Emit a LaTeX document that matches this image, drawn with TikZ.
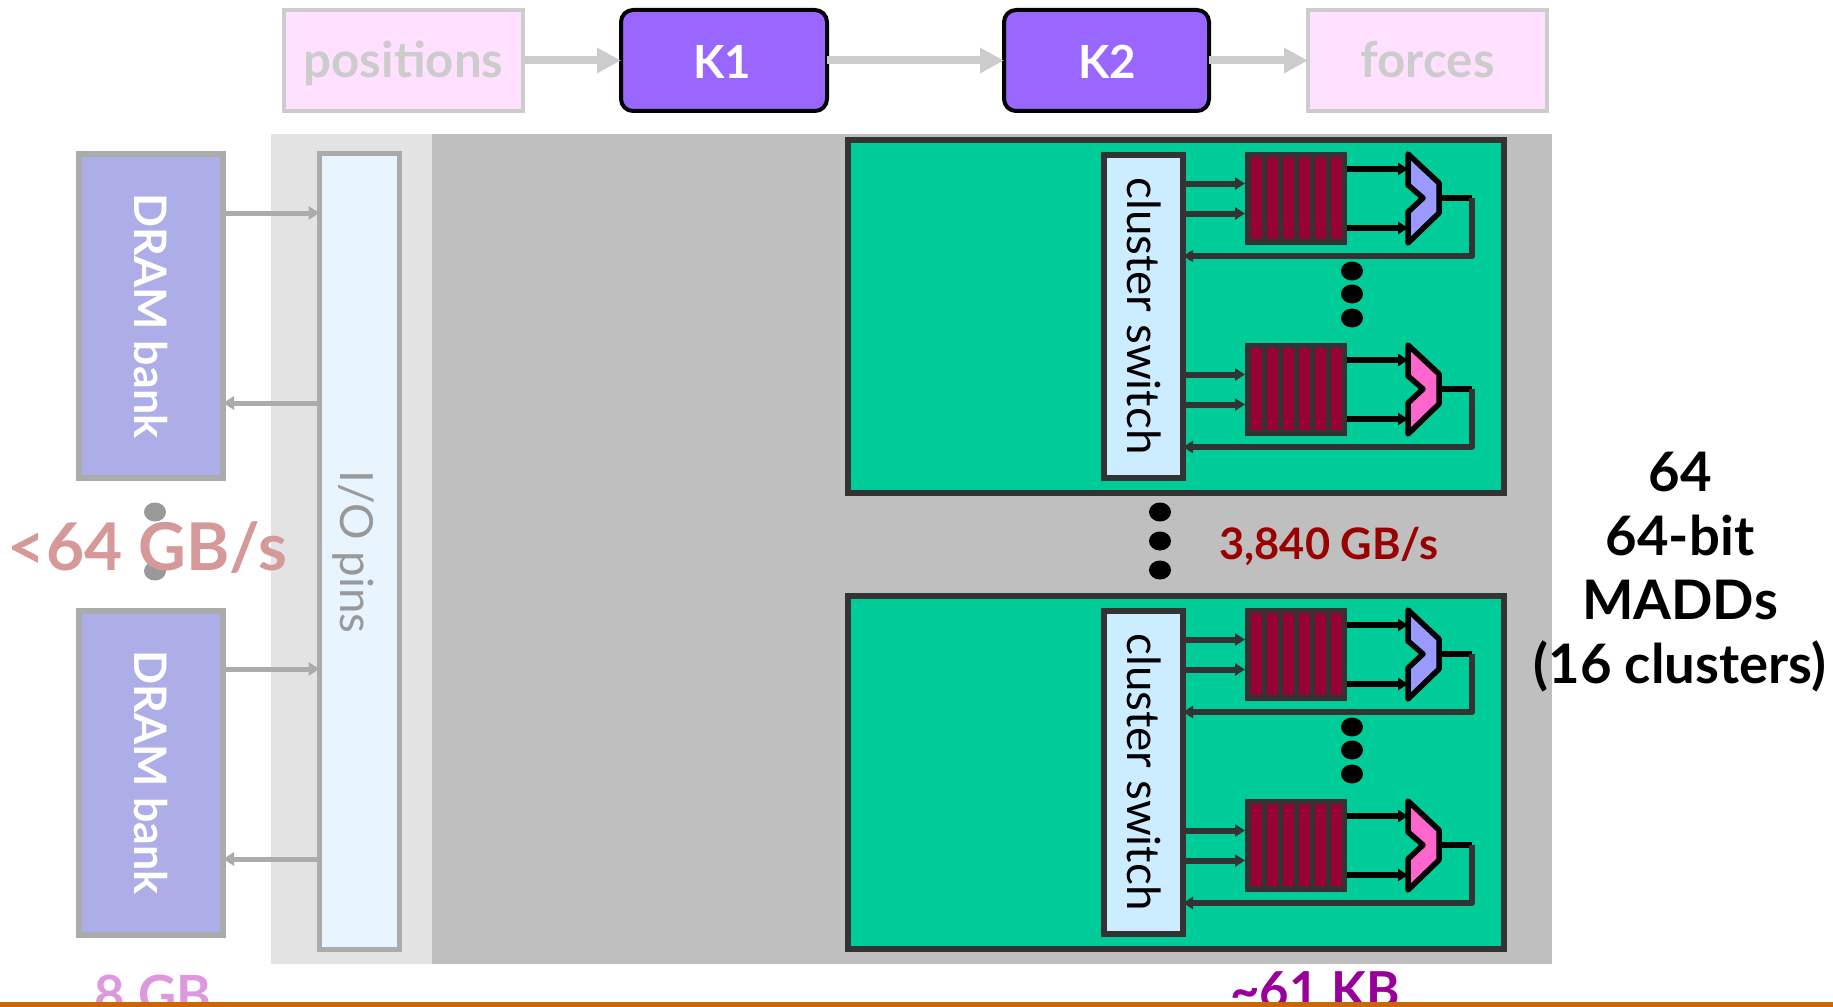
\documentclass[tikz,border=0pt]{standalone}
\usepackage{fontspec}
\setmainfont{Lato}
\usetikzlibrary{arrows.meta,positioning,calc,shapes.geometric}
\definecolor{boxgray}{HTML}{CCCCCC}
\definecolor{pinkfill}{HTML}{FFE0FF}
\definecolor{kernel}{HTML}{9966FF}
\definecolor{dramfill}{HTML}{ADADE8}
\definecolor{pinfill}{HTML}{E8F5FF}
\definecolor{dimgray}{HTML}{ABABAB}
\definecolor{darkline}{HTML}{333333}
\definecolor{clusterfill}{HTML}{00CC99}
\definecolor{switchfill}{HTML}{CCECFF}
\definecolor{regbar}{HTML}{990033}
\definecolor{lightbw}{HTML}{D69999}
\definecolor{darkbw}{HTML}{990000}
\definecolor{lightsize}{HTML}{DD99DD}
\definecolor{darksize}{HTML}{990099}
\definecolor{footbar}{HTML}{CC6600}
\newcommand{\px}{0.02cm}
\newcommand{\fs}[1]{\fontsize{#1}{#1}\selectfont}
\tikzset{
  every node/.style={outer sep=0pt,inner sep=0pt},
  streambox/.style={draw=boxgray,fill=pinkfill,line width=4*\px,minimum width=239*\px,minimum height=101*\px},
  kernelbox/.style={draw=black,fill=kernel,line width=4*\px,rounded corners=12*\px,minimum width=205*\px,minimum height=101*\px},
  drambox/.style={draw=dimgray,fill=dramfill,line width=6*\px,minimum width=144*\px,minimum height=324*\px},
  bigarrow/.style={draw=boxgray,line width=8*\px,-{Triangle[length=0.48cm,width=0.48cm]}},
  dimarrow/.style={draw=dimgray,line width=5*\px,-{Triangle[length=0.22cm,width=0.26cm]}},
  wirearrow/.style={draw=darkline,line width=6*\px,-{Triangle[length=0.2cm,width=0.24cm]}},
  blackarrow/.style={draw=black,line width=6*\px,-{Triangle[length=0.2cm,width=0.24cm]}},
  vlabel/.style={rotate=-90,font=\fs{26}},
  bigdot/.style={ellipse,fill=black,minimum width=22*\px,minimum height=19*\px},
}
\begin{document}
\begin{tikzpicture}[x=0.02cm,y=-0.02cm]
\useasboundingbox (0,0) rectangle (1833,1007);
% backdrop
\fill[fill=black!11] (271,134) rectangle (432,964);
\fill[fill=black!25] (432,134) rectangle (1552,964);
% stream and kernels
\node[streambox] (positions) at (403.5,60.5) {};
\node[kernelbox,minimum width=206*\px] (kone) at (724,60.5) {};
\node[kernelbox] (ktwo) at (1106.5,60.5) {};
\node[streambox] (forces) at (1427.5,60.5) {};
\node[anchor=base,text=boxgray,font=\bfseries\fs{28}] (positionstext) at (403.5,78) {positions};
\node[anchor=base,text=boxgray,font=\bfseries\fs{28}] (forcestext) at (1427.5,78) {forces};
\node[anchor=base,text=white,font=\bfseries\fs{26}] (konetext) at (722,79) {K1};
\node[anchor=base,text=white,font=\bfseries\fs{26}] (ktwotext) at (1107,79) {K2};
\draw[bigarrow] (positions) -- (kone);
\draw[bigarrow] (kone) -- (ktwo);
\draw[bigarrow] (ktwo) -- (forces);
% memory side
\node[drambox] (dramone) at (151,316) {};
\node[drambox] (dramtwo) at (151,772.5) {};
\node[draw=dimgray,fill=pinfill,line width=5*\px,minimum width=80*\px,minimum height=796*\px] (iopins) at (359.5,551.5) {};
\node[vlabel,text=white,font=\bfseries\fs{25.5}] (dramonetext) at (dramone) {DRAM bank};
\node[vlabel,text=white,font=\bfseries\fs{25.5}] (dramtwotext) at (dramtwo) {DRAM bank};
\node[vlabel,text=black!40] (iotext) at (353.5,552) {I/O pins};
\coordinate (readone) at (dramone.east |- 0,213);
\coordinate (writeone) at (dramone.east |- 0,403);
\coordinate (readtwo) at (dramtwo.east |- 0,669);
\coordinate (writetwo) at (dramtwo.east |- 0,859);
\draw[dimarrow] (readone) -- (iopins.west |- readone);
\draw[dimarrow] (iopins.west |- writeone) -- (writeone);
\draw[dimarrow] (readtwo) -- (iopins.west |- readtwo);
\draw[dimarrow] (iopins.west |- writetwo) -- (writetwo);
\node[bigdot,fill=black!40] (memdotone) at (155,512) {};
\node[bigdot,fill=black!40] (memdottwo) at (155,571) {};
% clusters
\foreach \cy in {0,456}{
\begin{scope}[shift={(0,\cy)}]
\node[draw=darkline,fill=clusterfill,line width=6*\px,minimum width=656*\px,minimum height=353*\px] (cluster) at (1176,316.5) {};
\node[draw=darkline,fill=switchfill,line width=6*\px,minimum width=79*\px,minimum height=323*\px] (switch) at (1143.5,316.5) {};
\node[vlabel,text=black] (switchtext) at (1144,316) {cluster switch};
\node[bigdot] (dotone) at (1352,271) {};
\node[bigdot] (dottwo) at (1352,294) {};
\node[bigdot] (dotthree) at (1352,318) {};
\foreach \ry/\alucol in {0/9999FF,191/FF66CC}{
\begin{scope}[shift={(0,\ry)}]
\node[fill=darkline,minimum width=102*\px,minimum height=93*\px] (regs) at (1296,198.5) {};
\foreach \bx in {1250.5,1266.5,1282.5,1298.5,1314.5,1330.5}
  \fill[fill=regbar] (\bx,157) rectangle ++(11,82);
\definecolor{alucolor}{HTML}{\alucol}
\draw[draw=black,fill=alucolor,line width=5.5*\px,line join=round] (1408,154) -- (1439,183) -- (1439,213) -- (1408,243) -- (1408,212) -- (1423,198) -- (1408,185) -- cycle;
\coordinate (aluinone) at (1408,169);
\coordinate (aluintwo) at (1408,228);
\coordinate (aluout) at (1439,198);
\coordinate (loopturn) at (1472,198);
\coordinate (loopdown) at (1472,256);
\coordinate (wireone) at (1245,183.5);
\coordinate (wiretwo) at (1245,213.5);
\draw[wirearrow] (switch.east |- wireone) -- (wireone);
\draw[wirearrow] (switch.east |- wiretwo) -- (wiretwo);
\draw[blackarrow] (regs.east |- aluinone) -- (aluinone);
\draw[blackarrow] (regs.east |- aluintwo) -- (aluintwo);
\draw[draw=black,line width=6*\px] (aluout) -- (loopturn);
\draw[wirearrow,line join=round] (loopturn) -- (loopdown) -- (switch.east |- loopdown);
\end{scope}
}
\end{scope}
}
\node[bigdot] (clusterdotone) at (1160,512) {};
\node[bigdot] (clusterdottwo) at (1160,541) {};
\node[bigdot] (clusterdotthree) at (1160,570) {};
% figures
\node[anchor=base west,text=lightbw,font=\bfseries\fs{37.5}] (membw) at (8,570) {<64 GB/s};
\node[anchor=base,text=darkbw,font=\bfseries\fs{24.7}] (clusterbw) at (1329,559) {3,840 GB/s};
\node[align=center,font=\bfseries\fontsize{31}{36.3}\selectfont,text=black] (madds) at (1680,572) {64\\64-bit\\MADDs\\(16 clusters)};
\node[anchor=base,text=lightsize,font=\bfseries\fs{30}] (dramsize) at (153,1013) {8 GB};
\node[anchor=base,text=darksize,font=\bfseries\fs{29}] (srfsize) at (1315,1008) {\textasciitilde61 KB};
\fill[fill=footbar] (0,1002) rectangle (1833,1007);
\end{tikzpicture}
\end{document}
